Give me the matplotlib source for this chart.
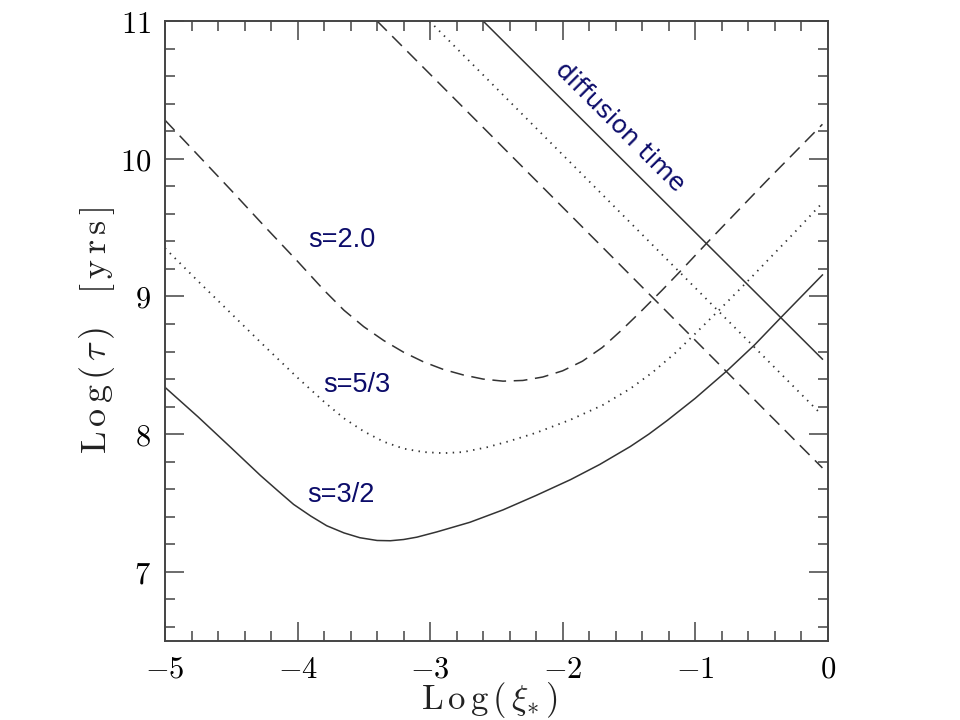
import numpy as np
import matplotlib as mpl
mpl.use('Agg')
import matplotlib.pyplot as plt
from matplotlib.ticker import MultipleLocator

mpl.rcParams['mathtext.fontset'] = 'cm'

# s = 3/2 (solid)
x_s32 = [-5.0, -4.75, -4.5, -4.28, -4.15, -4.03, -3.90, -3.78, -3.65, -3.53,
         -3.40, -3.30, -3.20, -3.10, -2.95, -2.70, -2.45, -2.20, -1.94, -1.72,
         -1.49, -1.35, -1.21, -1.00, -0.76, -0.55, -0.35, -0.04]
y_s32 = [8.34, 8.125, 7.90, 7.70, 7.59, 7.49, 7.405, 7.335, 7.283, 7.248,
         7.228, 7.226, 7.235, 7.252, 7.29, 7.36, 7.45, 7.555, 7.67, 7.78,
         7.91, 8.00, 8.10, 8.26, 8.46, 8.65, 8.85, 9.156]

# s = 5/3 (dotted)
x_s53 = [-5.0, -4.75, -4.5, -4.25, -4.0, -3.8, -3.65, -3.5, -3.35, -3.2,
         -3.05, -2.9, -2.75, -2.57, -2.4, -2.2, -1.94, -1.7, -1.49, -1.32,
         -1.15, -1.01, -0.81, -0.62, -0.46, -0.25, -0.04]
y_s53 = [9.35, 9.11, 8.875, 8.64, 8.41, 8.235, 8.115, 8.02, 7.945, 7.895,
         7.87, 7.862, 7.87, 7.905, 7.95, 8.01, 8.105, 8.21, 8.33, 8.45,
         8.59, 8.72, 8.91, 9.095, 9.255, 9.465, 9.68]

# s = 2.0 (dashed)
x_s20 = [-5.0, -4.75, -4.5, -4.25, -4.0, -3.8, -3.65, -3.5, -3.35, -3.2,
         -3.05, -2.9, -2.75, -2.6, -2.45, -2.3, -2.15, -2.0, -1.85, -1.7,
         -1.55, -1.4, -1.25, -1.1, -0.9, -0.7, -0.46, -0.25, -0.04]
y_s20 = [10.28, 10.025, 9.77, 9.51, 9.255, 9.045, 8.90, 8.78, 8.68, 8.595,
         8.525, 8.47, 8.43, 8.40, 8.385, 8.39, 8.415, 8.46, 8.53, 8.63,
         8.76, 8.90, 9.045, 9.195, 9.40, 9.60, 9.84, 10.045, 10.25]

# diffusion time lines
x_dif32 = [-2.60, -0.04]
y_dif32 = [11.0, 8.545]
x_dif53 = [-3.005, -0.06]
y_dif53 = [11.0, 8.155]
x_dif20 = [-3.40, -0.04]
y_dif20 = [11.0, 7.755]

xticks = [-5, -4, -3, -2, -1, 0]
yticks = [7, 8, 9, 10, 11]

line_col = '#333333'
txt_col = '#0c0c6a'

fig = plt.figure(figsize=(9.6, 7.2), dpi=100)
ax = fig.add_axes([0.1719, 0.1101, 0.6903, 0.8607])

solid = dict(color=line_col, lw=1.1, linestyle='-')
dotted = dict(color=line_col, lw=1.3, linestyle=(0, (0.8, 3.0)))
dashed = dict(color=line_col, lw=1.1, linestyle=(0, (9, 5)))

ax.plot(x_s32, y_s32, **solid)
ax.plot(x_s53, y_s53, **dotted)
ax.plot(x_s20, y_s20, **dashed)
ax.plot(x_dif32, y_dif32, **solid)
ax.plot(x_dif53, y_dif53, **dotted)
ax.plot(x_dif20, y_dif20, **dashed)

ax.set_xlim(-5, 0)
ax.set_ylim(6.5, 11)

ax.xaxis.set_minor_locator(MultipleLocator(0.2))
ax.yaxis.set_minor_locator(MultipleLocator(0.2))
ax.set_xticks(xticks)
ax.set_xticklabels(['$%d$' % v for v in xticks])
ax.set_yticks(yticks)
ax.set_yticklabels(['$%d$' % v for v in yticks])

ax.tick_params(which='both', direction='in', top=True, right=True,
               color='#444444', width=1.1)
ax.tick_params(which='major', length=14, labelsize=22, pad=10)
ax.tick_params(which='minor', length=7.5)
for sp in ax.spines.values():
    sp.set_color('#444444')
    sp.set_linewidth(1.4)

ax.set_xlabel(r'$\mathrm{L\,o\,g}\,(\,\xi_{*}\,)$', fontsize=25,
              color='#222222')
ax.xaxis.label.set_va('center')
ax.xaxis.set_label_coords(0.49, -0.096)
ax.set_ylabel(r'$\mathrm{L\,o\,g}\,(\,\tau\,)\quad[\,\mathrm{y\,r\,s}\,]$',
              fontsize=26, color='#222222')
ax.yaxis.label.set_va('center')
ax.yaxis.set_label_coords(-0.103, 0.50)

ax.text(-3.664, 9.41, 's=2.0', fontsize=19.5, color=txt_col,
        family='Liberation Sans', ha='center', va='center')
ax.text(-3.55, 8.36, 's=5/3', fontsize=19.5, color=txt_col,
        family='Liberation Sans', ha='center', va='center')
ax.text(-3.67, 7.56, 's=3/2', fontsize=19.5, color=txt_col,
        family='Liberation Sans', ha='center', va='center')
ax.text(-1.566, 10.23, 'diffusion time', fontsize=18, color=txt_col,
        family='DejaVu Sans', ha='center', va='center', rotation=-45,
        rotation_mode='anchor')

fig.savefig('out.png', dpi=100)
